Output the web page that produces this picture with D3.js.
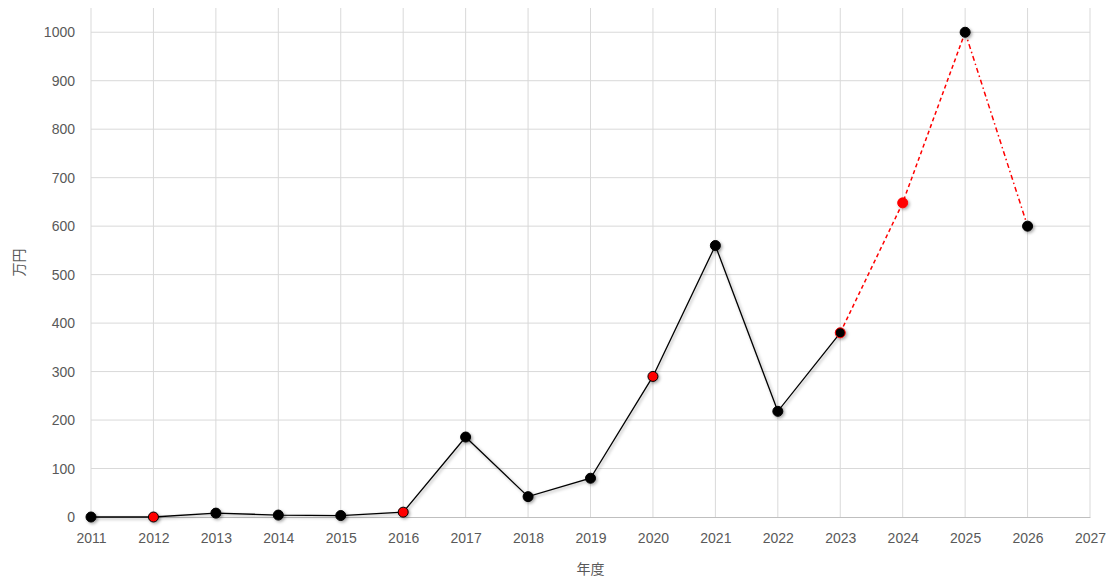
<!DOCTYPE html>
<html><head><meta charset="utf-8">
<script src="https://cdn.jsdelivr.net/npm/d3@7"></script>
<style>body{margin:0;background:#fff}svg{display:block}</style>
</head><body>
<svg id="c" width="1112" height="577"></svg>
<script>
const years = [2011,2012,2013,2014,2015,2016,2017,2018,2019,2020,2021,2022,2023,2024,2025,2026];
const values = [0,0,8,4,3,10,165,42,80,290,560,218,380,648,1000,600];
const markerFill = ["#000","red","#000","#000","#000","red","#000","#000","#000","red","#000","#000","#000","red","#000","#000"];
const markerStroke = ["#000","#000","#000","#000","#000","#000","#000","#000","#000","#000","#000","#000","red","red","#000","#000"];
const xTicks = d3.range(2011, 2028);
const yTicks = d3.range(0, 1001, 100);
const xTitle = "年度", yTitle = "万円";

const svg = d3.select("#c");
const m = {l:91, r:22, t:8, b:60};
const W = 1112, H = 577;
const x = d3.scaleLinear().domain([2011,2027]).range([m.l, W-m.r]);
const y = d3.scaleLinear().domain([0,1050]).range([H-m.b, m.t]);

const defs = svg.append("defs");
const f = defs.append("filter").attr("id","sh").attr("x","-50%").attr("y","-50%").attr("width","200%").attr("height","200%");
f.append("feDropShadow").attr("dx",1.5).attr("dy",1.5).attr("stdDeviation",1.5).attr("flood-color","#000").attr("flood-opacity",0.35);

const font = "'Liberation Sans','Noto Sans CJK JP',sans-serif";
// grid
svg.append("g").selectAll("line").data(yTicks.slice(1)).join("line")
 .attr("x1",m.l).attr("x2",W-m.r).attr("y1",d=>y(d)).attr("y2",d=>y(d))
 .attr("stroke","#d9d9d9").attr("stroke-width",1);
svg.append("g").selectAll("line").data(xTicks).join("line")
 .attr("x1",d=>x(d)).attr("x2",d=>x(d)).attr("y1",m.t).attr("y2",y(0))
 .attr("stroke","#d9d9d9").attr("stroke-width",1);

// axes
const xa = svg.append("g").attr("transform",`translate(0,${y(0)})`)
 .call(d3.axisBottom(x).tickValues(xTicks).tickFormat(d3.format("d")).tickSize(0).tickPadding(16));
xa.select(".domain").attr("stroke","#bfbfbf");
const ya = svg.append("g").attr("transform",`translate(${m.l},0)`)
 .call(d3.axisLeft(y).tickValues(yTicks).tickFormat(d3.format("d")).tickSize(0).tickPadding(16));
ya.select(".domain").remove();
svg.selectAll(".tick text").attr("fill","#595959").style("font-family",font).style("font-size","14px");

// lines
const pts = years.map((d,i)=>({x:d,y:values[i],i}));
const line = d3.line().x(d=>x(d.x)).y(d=>y(d.y));
svg.append("path").datum(pts.slice(0,13)).attr("d",line).attr("fill","none")
 .attr("stroke","#000").attr("stroke-width",1.3).attr("filter","url(#sh)");
svg.append("path").datum(pts.slice(12,15)).attr("d",line).attr("fill","none")
 .attr("stroke","red").attr("stroke-width",1.5).attr("stroke-dasharray","4,3");
svg.append("path").datum(pts.slice(14,16)).attr("d",line).attr("fill","none")
 .attr("stroke","red").attr("stroke-width",1.5).attr("stroke-dasharray","5,3,1.5,3");

// markers
svg.append("g").selectAll("circle").data(pts).join("circle")
 .attr("cx",d=>x(d.x)).attr("cy",d=>y(d.y)).attr("r",5)
 .attr("fill",d=>markerFill[d.i]).attr("stroke",d=>markerStroke[d.i]).attr("stroke-width",1)
 .attr("filter","url(#sh)");

// titles
svg.append("text").attr("x",(m.l+W-m.r)/2).attr("y",574).attr("text-anchor","middle")
 .attr("fill","#595959").style("font-family",font).style("font-size","14px").text(xTitle);
svg.append("text").attr("transform",`translate(24,${(m.t+y(0))/2}) rotate(-90)`).attr("text-anchor","middle")
 .attr("fill","#595959").style("font-family",font).style("font-size","14px").text(yTitle);
</script>
</body></html>
